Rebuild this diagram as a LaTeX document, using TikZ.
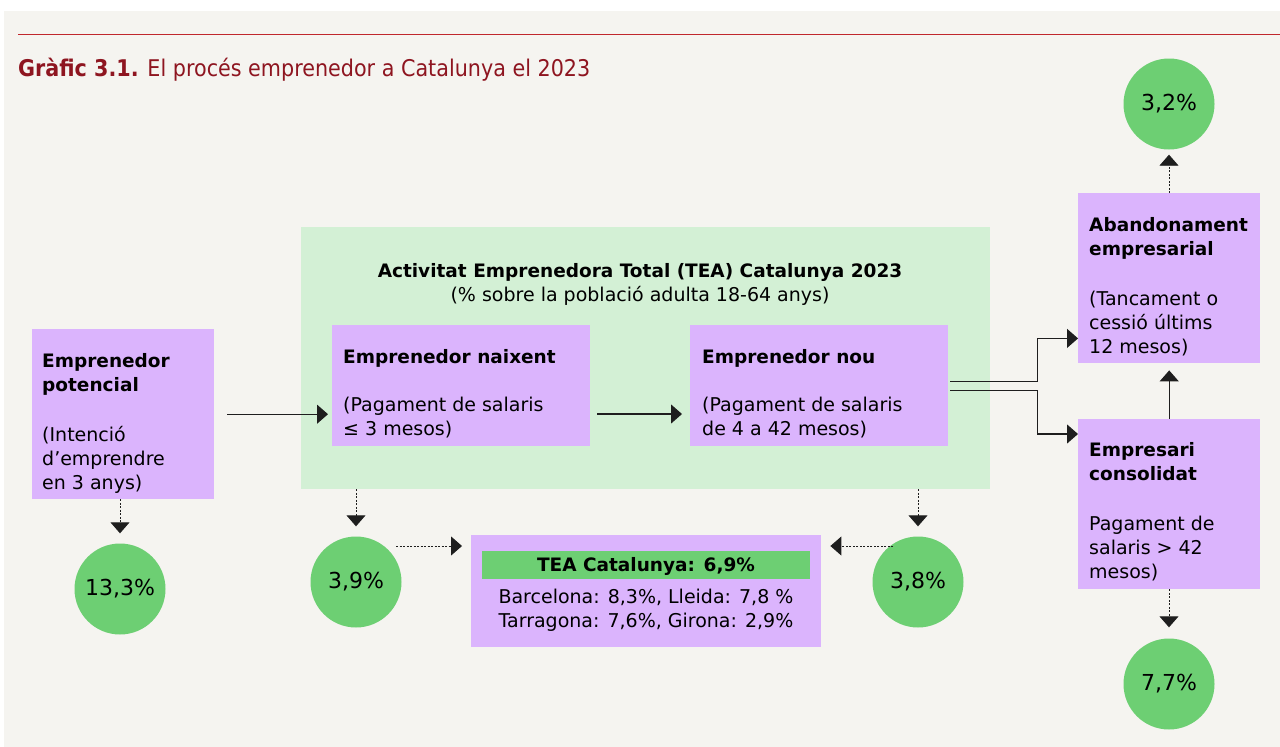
\documentclass[tikz,border=0pt]{standalone}
\usepackage{fontspec}
\setmainfont{DejaVu Sans}
\newfontfamily\condfont[FakeStretch=0.9]{DejaVu Sans}
\usetikzlibrary{arrows.meta}
\definecolor{bg}{HTML}{F5F4F0}
\definecolor{lilac}{HTML}{DBB4FD}
\definecolor{mint}{HTML}{D3F0D5}
\definecolor{leaf}{HTML}{6DCF73}
\definecolor{wine}{HTML}{8E1520}
\definecolor{rulered}{HTML}{C0272D}
\definecolor{ink}{HTML}{1E1E1E}
\newcommand{\hd}[1]{{\fontsize{18.5}{24}\selectfont\bfseries #1}}
\begin{document}
\begin{tikzpicture}[x=1pt,y=-1pt,
  box/.style={fill=lilac, draw=none, inner sep=0pt, anchor=north west},
  txt/.style={align=left, inner sep=0pt, anchor=base west, font=\fontsize{19}{24}\selectfont},
  ctxt/.style={align=center, inner sep=0pt, anchor=base, font=\fontsize{19}{24}\selectfont},
  circ/.style={circle, fill=leaf, minimum size=91pt, inner sep=0pt, font=\fontsize{22}{26}\selectfont},
  conn/.style={draw=ink, line width=1.1pt, -{Triangle[length=11pt,width=19pt]}},
  dots/.style={conn, line width=0.9pt, dash pattern=on 2pt off 1.5pt}]
% background
\useasboundingbox (0,0) rectangle (1280,747);
\fill[white] (0,0) rectangle (1280,747);
\fill[bg] (4,11) rectangle (1280,747);
\draw[rulered, line width=1pt] (18,34) -- (1280,34);
\node[anchor=base west, inner sep=0pt, text=wine, font=\condfont\fontsize{23}{28}\selectfont] (title) at (18,76) {\textbf{Gràfic 3.1.} El procés emprenedor a Catalunya el 2023};

% TEA region
\node[fill=mint, minimum width=689pt, minimum height=262pt, inner sep=0pt, anchor=north west] (tea) at (301,227) {};
\node[ctxt] (teat) at (640,277) {\hd{Activitat Emprenedora Total (TEA) Catalunya 2023}};
\node[ctxt] (teas) at (640,301) {(\% sobre la població adulta 18-64 anys)};

% boxes (text nodes anchored at the baseline of their last line)
\node[box, minimum width=182pt, minimum height=170pt] (pot) at (32,329) {};
\node[txt] (pott) at (42,489) {\hd{Emprenedor}\\\hd{potencial}\\[26pt](Intenció\\d’emprendre\\en 3 anys)};

\node[box, minimum width=258pt, minimum height=121pt] (naix) at (332,325) {};
\node[txt] (naixt) at (343,435) {\hd{Emprenedor naixent}\\[24pt](Pagament de salaris\\≤ 3 mesos)};

\node[box, minimum width=258pt, minimum height=121pt] (nou) at (690,325) {};
\node[txt] (nout) at (702,435) {\hd{Emprenedor nou}\\[24pt](Pagament de salaris\\de 4 a 42 mesos)};

\node[box, minimum width=182pt, minimum height=170pt] (aband) at (1078,193) {};
\node[txt] (abandt) at (1089,353) {\hd{Abandonament}\\\hd{empresarial}\\[26pt](Tancament o\\cessió últims\\12 mesos)};

\node[box, minimum width=182pt, minimum height=170pt] (cons) at (1078,419) {};
\node[txt] (const) at (1089,578) {\hd{Empresari}\\\hd{consolidat}\\[26pt]Pagament de\\salaris > 42\\mesos)};

% TEA result box
\node[box, minimum width=350pt, minimum height=112pt] (teab) at (471,535) {};
\node[fill=leaf, minimum width=328pt, minimum height=28pt, inner sep=0pt, anchor=north west] (bar) at (482,551) {};
\node[ctxt] (bart) at (646,571) {\hd{TEA Catalunya: 6,9\%}};
\node[ctxt] (regt) at (646,627) {Barcelona: 8,3\%, Lleida: 7,8 \%\\Tarragona: 7,6\%, Girona: 2,9\%};

% circles
\node[circ] (c133) at (120,589) {13,3\%};
\node[circ] (c39) at (356,582) {3,9\%};
\node[circ] (c38) at (918,582) {3,8\%};
\node[circ] (c32) at (1169,104) {3,2\%};
\node[circ] (c77) at (1169,684) {7,7\%};

% solid connectors
\draw[conn, shorten <=13pt, shorten >=4pt] (pot.east) -- (pot.east -| naix.west);
\coordinate (a1) at (597,414);
\draw[conn, shorten >=8pt] (a1) -- (a1 -| nou.west);
\draw[conn] ([shift={(2,-4.5)}]nou.east) -- ++(87,0) |- ([yshift=25pt]aband.south west);
\draw[conn] ([shift={(2,4.5)}]nou.east) -- ++(87,0) |- ([yshift=-15pt]cons.north west);
\draw[conn, shorten >=7pt] (cons.north) -- (aband.south);

% dotted connectors
\draw[dots, shorten >=5pt] (aband.north -| c32) -- (c32);
\draw[dots, shorten >=11pt] (cons.south -| c77) -- (c77);
\draw[dots, shorten >=10pt] (pot.south -| c133) -- (c133);
\draw[dots, shorten >=10pt] (tea.south -| c39) -- (c39);
\draw[dots, shorten >=10pt] (tea.south -| c38) -- (c38);
\coordinate (d1) at (396,546);
\draw[dots, shorten >=9pt] (d1) -- (d1 -| teab.west);
\coordinate (d2) at (893,546);
\draw[dots, shorten >=9pt] (d2) -- (d2 -| teab.east);
\end{tikzpicture}
\end{document}
